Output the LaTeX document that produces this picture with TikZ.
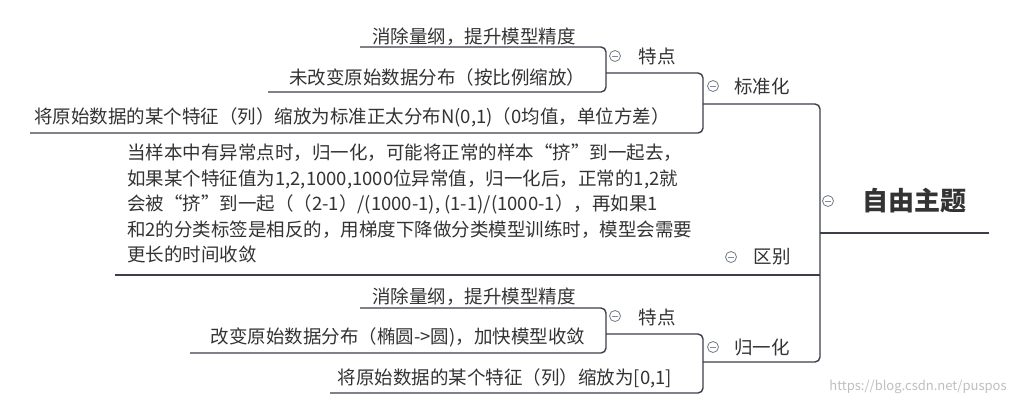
\documentclass[tikz,border=0pt]{standalone}
\usepackage{fontspec}
\setmainfont{Noto Sans CJK SC}
\definecolor{ln}{HTML}{3C3F4A}
\definecolor{tx}{HTML}{333333}
\definecolor{cc}{HTML}{7A8BA8}
\begin{document}
\begin{tikzpicture}[x=1pt,y=-1pt,
  lnk/.style={draw=ln,line width=1.4pt,rounded corners=5pt},
  lbl/.style={text=tx,font=\fontsize{18.5}{20}\selectfont,inner sep=0pt},
  fold/.style={circle,draw=ln!70,line width=0.8pt,minimum size=11pt,inner sep=0pt,
    path picture={\draw[cc,line width=1pt] ([xshift=-3pt]path picture bounding box.center)--([xshift=3pt]path picture bounding box.center);}}]
\useasboundingbox[fill=white] (0,0) rectangle (1027,405);
% root
\node[lbl,font=\fontsize{26}{30}\selectfont\bfseries] (root) at (914,201) {自由主题};
\node[fold] (croot) at (828,201) {};
\draw[draw=ln,line width=2pt] (830,233) -- (989,233);
% level 1
\node[fold] (c1) at (713,86) {}; \node[lbl] (bz) at (762,86) {标准化};
\node[fold] (c2) at (731,257) {}; \node[lbl] (qb) at (772,257) {区别};
\node[fold] (c3) at (713,347) {}; \node[lbl] (gy) at (762,347) {归一化};
\draw[lnk] (703,104) -- (820,104) -- (820,362) -- (703,362);
\draw[lnk] (820,233) -- (832,233);
\draw[lnk] (115,275) -- (820,275);
% 标准化 children
\node[fold] (c4) at (615,56) {}; \node[lbl] (td1) at (657,56) {特点};
\draw[lnk] (606,73) -- (703,73) -- (703,133) -- (30,133);
\node[lbl] (t1) at (474,37) {消除量纲，提升模型精度};
\node[lbl] (t2) at (437,77) {未改变原始数据分布（按比例缩放）};
\draw[lnk] (360,47) -- (606,47) -- (606,92) -- (268,92);
\node[lbl] (t3) at (352,117) {将原始数据的某个特征（列）缩放为标准正太分布N(0,1)（0均值，单位方差）};
% 区别 text
\node[lbl,anchor=north west,align=left,font=\fontsize{18.5}{25.5}\selectfont] (t4) at (127,144)
 {当样本中有异常点时，归一化，可能将正常的样本“挤”到一起去，\\
  如果某个特征值为1,2,1000,1000位异常值，归一化后，正常的1,2就\\
  会被“挤”到一起（（2-1）/(1000-1), (1-1)/(1000-1），再如果1\\
  和2的分类标签是相反的，用梯度下降做分类模型训练时，模型会需要\\
  更长的时间收敛};
% 归一化 children
\node[fold] (c5) at (615,316) {}; \node[lbl] (td2) at (657,317) {特点};
\draw[lnk] (606,334) -- (703,334) -- (703,393) -- (330,393);
\node[lbl] (t5) at (474,297) {消除量纲，提升模型精度};
\node[lbl] (t6) at (398,337) {改变原始数据分布（椭圆->圆)，加快模型收敛};
\draw[lnk] (360,308) -- (606,308) -- (606,353) -- (190,353);
\node[lbl] (t7) at (505,378) {将原始数据的某个特征（列）缩放为[0,1]};
% watermark
\node[text=black!25,font=\fontsize{13}{15}\selectfont,inner sep=0pt] (wm) at (918,387) {https://blog.csdn.net/puspos};
\end{tikzpicture}
\end{document}
